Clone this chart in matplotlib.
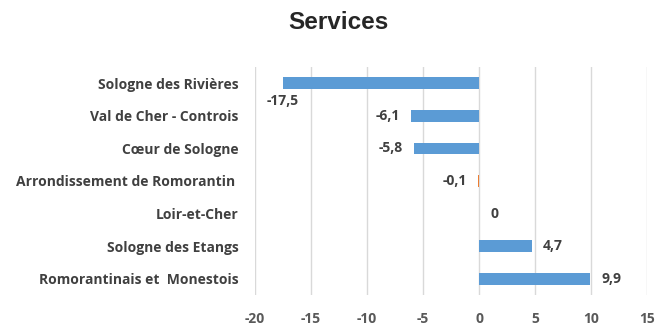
import matplotlib
matplotlib.use("Agg")
import matplotlib.pyplot as plt

categories = ["Sologne des Rivières", "Val de Cher - Controis", "Cœur de Sologne",
              "Arrondissement de Romorantin ", "Loir-et-Cher", "Sologne des Etangs",
              "Romorantinais et  Monestois"]
values = [-17.5, -6.1, -5.8, -0.1, 0.0, 4.7, 9.9]
value_labels = ["-17,5", "-6,1", "-5,8", "-0,1", "0", "4,7", "9,9"]
bar_colors = ["#5B9BD5", "#5B9BD5", "#5B9BD5", "#ED7D31", "#5B9BD5", "#5B9BD5", "#5B9BD5"]
xticks = [-20, -15, -10, -5, 0, 5, 10, 15]

FONT = "Open Sans"
FS = 10

fig = plt.figure(figsize=(6.59, 3.27), dpi=100)
ax = fig.add_axes([0.387, 0.098, 0.595, 0.697])

y = list(range(len(categories)))
ax.barh(y, values, height=0.36, color=bar_colors, zorder=3)
ax.set_ylim(len(categories) - 0.5, -0.5)
ax.set_xlim(-20, 15)
ax.set_xticks(xticks)
ax.set_xticklabels([str(t) for t in xticks], fontfamily=FONT, fontweight="bold",
                   fontsize=FS, color="#595959")
ax.set_yticks(y)
ax.set_yticklabels(categories, fontfamily=FONT, fontweight="bold", fontsize=FS,
                   color="#404040")
ax.tick_params(axis="both", length=0)
ax.tick_params(axis="y", pad=12)
ax.tick_params(axis="x", pad=12)
for s in ax.spines.values():
    s.set_visible(False)
ax.grid(axis="x", color="#D9D9D9", linewidth=1, zorder=0)
ax.set_axisbelow(True)

for i, (v, lab) in enumerate(zip(values, value_labels)):
    if i == 0:
        ax.annotate(lab, (v, i), xytext=(0, -13), textcoords="offset points",
                    ha="center", va="center", fontfamily=FONT, fontweight="bold",
                    fontsize=FS, color="#404040")
    elif v < 0:
        ax.annotate(lab, (v, i), xytext=(-8, 0), textcoords="offset points",
                    ha="right", va="center", fontfamily=FONT, fontweight="bold",
                    fontsize=FS, color="#404040")
    else:
        ax.annotate(lab, (v, i), xytext=(8, 0), textcoords="offset points",
                    ha="left", va="center", fontfamily=FONT, fontweight="bold",
                    fontsize=FS, color="#404040")

fig.text(0.513, 0.932, "Services", ha="center", va="center", fontfamily="Liberation Sans",
         fontweight="bold", fontsize=17.5, color="#262626")

fig.savefig("out.png", dpi=100)
